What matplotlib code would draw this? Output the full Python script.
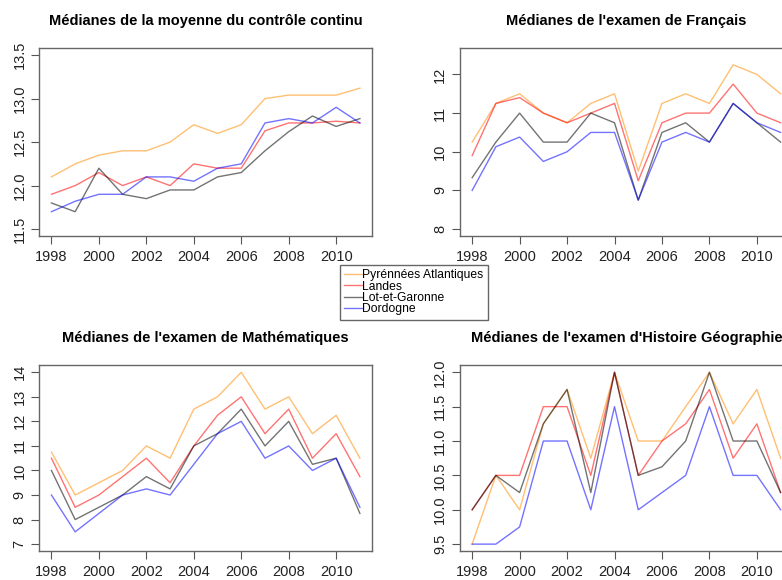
import matplotlib
matplotlib.use('Agg')
import matplotlib.pyplot as plt

plt.rcParams['font.family'] = ['Liberation Sans', 'DejaVu Sans']

annees = list(range(1998, 2012))
departements = ['Pyrénnées Atlantiques', 'Landes', 'Lot-et-Garonne', 'Dordogne']
couleurs = ['darkorange', 'red', 'black', 'blue']

# moyenne du controle continu
cc_pa = [12.1, 12.25, 12.35, 12.4, 12.4, 12.5, 12.7, 12.6, 12.7, 13.0, 13.04, 13.04, 13.04, 13.12]
cc_landes = [11.9, 12.0, 12.15, 12.0, 12.1, 12.0, 12.25, 12.2, 12.2, 12.63, 12.72, 12.72, 12.74, 12.72]
cc_lot = [11.8, 11.7, 12.2, 11.9, 11.85, 11.95, 11.95, 12.1, 12.15, 12.4, 12.62, 12.8, 12.68, 12.77]
cc_dord = [11.7, 11.82, 11.9, 11.9, 12.1, 12.1, 12.05, 12.2, 12.25, 12.72, 12.77, 12.72, 12.9, 12.72]

# examen de francais
fr_pa = [10.25, 11.25, 11.5, 11.0, 10.75, 11.25, 11.5, 9.5, 11.25, 11.5, 11.25, 12.25, 12.0, 11.5]
fr_landes = [9.9, 11.25, 11.4, 11.0, 10.75, 11.0, 11.25, 9.25, 10.75, 11.0, 11.0, 11.75, 11.0, 10.75]
fr_lot = [9.33, 10.25, 11.0, 10.25, 10.25, 11.0, 10.75, 8.75, 10.5, 10.75, 10.25, 11.25, 10.75, 10.25]
fr_dord = [9.0, 10.13, 10.38, 9.75, 10.0, 10.5, 10.5, 8.75, 10.25, 10.5, 10.25, 11.25, 10.75, 10.5]

# examen de mathematiques
ma_pa = [10.75, 9.0, 9.5, 10.0, 11.0, 10.5, 12.5, 13.0, 14.0, 12.5, 13.0, 11.5, 12.25, 10.5]
ma_landes = [10.5, 8.5, 9.0, 9.75, 10.5, 9.5, 11.0, 12.25, 13.0, 11.5, 12.5, 10.5, 11.5, 9.75]
ma_lot = [10.0, 8.0, 8.5, 9.0, 9.75, 9.25, 11.0, 11.5, 12.5, 11.0, 12.0, 10.25, 10.5, 8.25]
ma_dord = [9.0, 7.5, 8.25, 9.0, 9.25, 9.0, 10.25, 11.5, 12.0, 10.5, 11.0, 10.0, 10.5, 8.5]

# examen d'histoire geographie
hg_pa = [9.5, 10.5, 10.0, 11.25, 11.75, 10.75, 12.0, 11.0, 11.0, 11.5, 12.0, 11.25, 11.75, 10.75]
hg_landes = [10.0, 10.5, 10.5, 11.5, 11.5, 10.5, 12.0, 10.5, 11.0, 11.25, 11.75, 10.75, 11.25, 10.25]
hg_lot = [10.0, 10.5, 10.25, 11.25, 11.75, 10.25, 12.0, 10.5, 10.625, 11.0, 12.0, 11.0, 11.0, 10.25]
hg_dord = [9.5, 9.5, 9.75, 11.0, 11.0, 10.0, 11.5, 10.0, 10.25, 10.5, 11.5, 10.5, 10.5, 10.0]

panneaux = [
    ("Médianes de la moyenne du contrôle continu", [cc_pa, cc_landes, cc_lot, cc_dord], (11.5, 13.5), [11.5, 12.0, 12.5, 13.0, 13.5], '%.1f'),
    ("Médianes de l'examen de Français", [fr_pa, fr_landes, fr_lot, fr_dord], (8, 12.5), [8, 9, 10, 11, 12], '%d'),
    ("Médianes de l'examen de Mathématiques", [ma_pa, ma_landes, ma_lot, ma_dord], (7, 14), list(range(7, 15)), '%d'),
    ("Médianes de l'examen d'Histoire Géographie", [hg_pa, hg_landes, hg_lot, hg_dord], (9.5, 12), [9.5, 10.0, 10.5, 11.0, 11.5, 12.0], '%.1f'),
]

# positions des axes (la figure d'origine est coupee a droite)
positions = [
    [0.050, 0.593, 0.426, 0.324],
    [0.588, 0.593, 0.426, 0.324],
    [0.050, 0.050, 0.426, 0.320],
    [0.588, 0.050, 0.426, 0.320],
]

fig = plt.figure(figsize=(7.82, 5.8), dpi=100)

lignes = []
for (titre, series, ylim, yticks, fmt), pos in zip(panneaux, positions):
    ax = fig.add_axes(pos)
    for serie, couleur, nom in zip(series, couleurs, departements):
        l, = ax.plot(annees, serie, color=couleur, alpha=0.55, lw=1.0, label=nom)
        if len(lignes) < 4:
            lignes.append(l)
    marge_x = (annees[-1] - annees[0]) * 0.04
    ax.set_xlim(annees[0] - marge_x, annees[-1] + marge_x)
    marge_y = (ylim[1] - ylim[0]) * 0.04
    ax.set_ylim(ylim[0] - marge_y, ylim[1] + marge_y)
    ax.set_xticks(range(1998, 2012, 2))
    ax.set_yticks(yticks)
    ax.set_yticklabels([fmt % v for v in yticks], rotation=90, va='center')
    ax.tick_params(direction='out', length=6, width=0.8, color='#555555',
                   labelsize=10.5, labelcolor='#222222', pad=4)
    ax.tick_params(axis='y', pad=3)
    for s in ax.spines.values():
        s.set_color('#666666')
        s.set_linewidth(1.0)
    ax.set_title(titre, fontsize=10.5, fontweight='bold', pad=17)

fig.legend(lignes, departements, loc='center', bbox_to_anchor=(0.529, 0.496),
           fontsize=8.7, frameon=True, fancybox=False, edgecolor='#666666',
           handlelength=1.5, handletextpad=0.0, labelspacing=-0.05,
           borderpad=0.35, borderaxespad=0.0, framealpha=1.0)

fig.savefig('out.png', dpi=100)
